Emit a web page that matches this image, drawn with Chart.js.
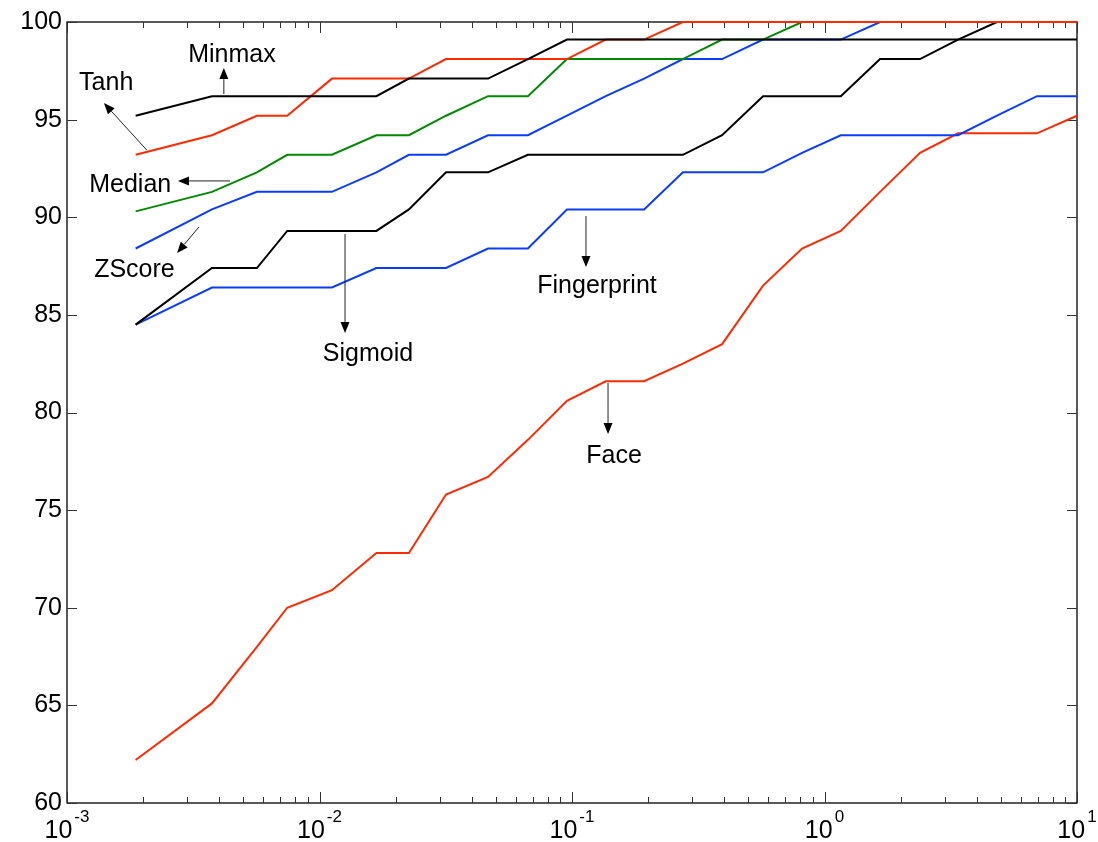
<!DOCTYPE html>
<html>
<head>
<meta charset="utf-8">
<script src="https://cdn.jsdelivr.net/npm/chart.js@4.4.0/dist/chart.umd.min.js"></script>
<style>
  body { margin: 0; background: #fff; }
  #plot { display: block; }
</style>
</head>
<body>
<canvas id="plot" width="1098" height="842"></canvas>
<script>
// x positions shared by all curves (log axis)
const xValues = [0.00187, 0.00375, 0.00565, 0.00745, 0.0112, 0.0168, 0.0226, 0.0317, 0.0465, 0.0669,
  0.0955, 0.136, 0.193, 0.275, 0.393, 0.571, 0.815, 1.16, 1.66, 2.39, 3.38, 4.82, 6.94, 10];

// one array per curve
const minmaxVals = [95.2, 96.2, 96.2, 96.2, 96.2, 96.2, 97.1, 97.1, 97.1, 98.1, 99.1, 99.1,
  99.1, 99.1, 99.1, 99.1, 99.1, 99.1, 99.1, 99.1, 99.1, 99.1, 99.1, 99.1];
const tanhVals = [93.2, 94.2, 95.2, 95.2, 97.1, 97.1, 97.1, 98.1, 98.1, 98.1, 98.1, 99.1,
  99.1, 100, 100, 100, 100, 100, 100, 100, 100, 100, 100, 100];
const medianVals = [90.3, 91.3, 92.3, 93.2, 93.2, 94.2, 94.2, 95.2, 96.2, 96.2, 98.1, 98.1,
  98.1, 98.1, 99.1, 99.1, 100, 100, 100, 100, 100, 100, 100, 100];
const zscoreVals = [88.4, 90.4, 91.3, 91.3, 91.3, 92.3, 93.2, 93.2, 94.2, 94.2, 95.2, 96.2,
  97.1, 98.1, 98.1, 99.1, 99.1, 99.1, 100, 100, 100, 100, 100, 100];
const sigmoidVals = [84.5, 87.4, 87.4, 89.3, 89.3, 89.3, 90.4, 92.3, 92.3, 93.2, 93.2, 93.2,
  93.2, 93.2, 94.2, 96.2, 96.2, 96.2, 98.1, 98.1, 99.1, 100, 100, 100];
const fingerprintVals = [84.5, 86.4, 86.4, 86.4, 86.4, 87.4, 87.4, 87.4, 88.4, 88.4, 90.4, 90.4,
  90.4, 92.3, 92.3, 92.3, 93.3, 94.2, 94.2, 94.2, 94.2, 95.2, 96.2, 96.2];
const faceVals = [62.2, 65.1, 68.0, 70.0, 70.9, 72.8, 72.8, 75.8, 76.7, 78.6, 80.6, 81.6,
  81.6, 82.5, 83.5, 86.5, 88.4, 89.3, 91.3, 93.3, 94.3, 94.3, 94.3, 95.2];

// axis ticks
const yTickValues = [60, 65, 70, 75, 80, 85, 90, 95, 100];
const xDecades = [-3, -2, -1, 0, 1];

// curve labels with arrows (data coordinates)
const labelNames = ["Minmax", "Tanh", "Median", "ZScore", "Sigmoid", "Fingerprint", "Face"];
const labelX = [0.0045, 0.00143, 0.00178, 0.00185, 0.01556, 0.1256, 0.1467];
const labelY = [97.95, 96.5, 91.29, 86.94, 82.64, 86.12, 77.41];
const arrowFrom = [[0.00418, 96.31], [0.00207, 93.44], [0.00442, 91.86], [0.00333, 89.5], [0.01262, 89.14], [0.1136, 90.06], [0.1389, 81.51]];
const arrowTo = [[0.00418, 97.64], [0.0014, 95.85], [0.00275, 91.86], [0.00273, 88.17], [0.01262, 84.07], [0.1136, 87.45], [0.1389, 78.9]];

const RED = '#ff2a00';
const BLUE = '#0a3cff';
const GREEN = '#008a00';
const BLACK = '#000000';
const FONT = '"Liberation Sans", Arial, Helvetica, sans-serif';

function toPoints(vals) {
    return xValues.map(function (x, i) { return { x: x, y: vals[i] }; });
}

function makeLine(label, vals, color) {
    return {
        label: label,
        data: toPoints(vals),
        borderColor: color,
        borderWidth: 2,
        pointRadius: 0,
        tension: 0,
        fill: false,
        clip: false
    };
}

function drawArrow(ctx, x1, y1, x2, y2) {
    const ang = Math.atan2(y2 - y1, x2 - x1);
    const headLen = 11, headW = 4.5;
    const bx = x2 - headLen * Math.cos(ang);
    const by = y2 - headLen * Math.sin(ang);
    ctx.beginPath();
    ctx.moveTo(x1, y1);
    ctx.lineTo(bx, by);
    ctx.stroke();
    ctx.beginPath();
    ctx.moveTo(x2, y2);
    ctx.lineTo(bx + headW * Math.sin(ang), by - headW * Math.cos(ang));
    ctx.lineTo(bx - headW * Math.sin(ang), by + headW * Math.cos(ang));
    ctx.closePath();
    ctx.fill();
}

// box, inward ticks and log labels like the original figure
const boxPlugin = {
    id: 'box',
    beforeDatasetsDraw(chart) {
        const ctx = chart.ctx;
        const a = chart.chartArea;
        const xs = chart.scales.x;
        const ys = chart.scales.y;
        ctx.save();
        ctx.strokeStyle = BLACK;
        ctx.lineWidth = 1.3;
        ctx.strokeRect(a.left, a.top, a.right - a.left, a.bottom - a.top);

        ctx.lineWidth = 1;
        ctx.strokeStyle = '#333';
        // y ticks, left and right
        yTickValues.forEach(function (v) {
            const py = Math.round(ys.getPixelForValue(v)) + 0.5;
            ctx.beginPath();
            ctx.moveTo(a.left, py); ctx.lineTo(a.left + 10, py);
            ctx.moveTo(a.right, py); ctx.lineTo(a.right - 10, py);
            ctx.stroke();
        });
        // x ticks, bottom and top
        xDecades.forEach(function (d) {
            for (let k = 1; k <= 9; k++) {
                if (d === 1 && k > 1) break;
                const px = Math.round(xs.getPixelForValue(k * Math.pow(10, d))) + 0.5;
                const len = k === 1 ? 11 : 6;
                ctx.beginPath();
                ctx.moveTo(px, a.bottom); ctx.lineTo(px, a.bottom - len);
                ctx.moveTo(px, a.top); ctx.lineTo(px, a.top + len);
                ctx.stroke();
            }
        });
        ctx.restore();
    },
    afterDraw(chart) {
        const ctx = chart.ctx;
        const a = chart.chartArea;
        const xs = chart.scales.x;
        const ys = chart.scales.y;
        ctx.save();
        ctx.fillStyle = BLACK;
        ctx.textBaseline = 'alphabetic';
        ctx.textAlign = 'left';

        // 10^n labels under the x axis
        xDecades.forEach(function (d) {
            const px = xs.getPixelForValue(Math.pow(10, d));
            ctx.font = '25px ' + FONT;
            const wBase = ctx.measureText('10').width;
            ctx.font = '17px ' + FONT;
            const exp = String(d);
            const wExp = ctx.measureText(exp).width;
            const left = px - (wBase + 2 + wExp) / 2;
            ctx.font = '25px ' + FONT;
            ctx.fillText('10', left, a.bottom + 35);
            ctx.font = '17px ' + FONT;
            ctx.fillText(exp, left + wBase + 2, a.bottom + 19);
        });

        // curve names and arrows
        ctx.strokeStyle = '#222';
        ctx.lineWidth = 1;
        labelNames.forEach(function (name, i) {
            ctx.font = '25px ' + FONT;
            ctx.textAlign = 'center';
            ctx.fillText(name, xs.getPixelForValue(labelX[i]), ys.getPixelForValue(labelY[i]));
            drawArrow(ctx,
                xs.getPixelForValue(arrowFrom[i][0]), ys.getPixelForValue(arrowFrom[i][1]),
                xs.getPixelForValue(arrowTo[i][0]), ys.getPixelForValue(arrowTo[i][1]));
        });
        ctx.restore();
    }
};

const plotEl = document.getElementById('plot');

const chart = new Chart(plotEl, {
    type: 'line',
    data: {
        datasets: [
            makeLine('Minmax', minmaxVals, BLACK),
            makeLine('Tanh', tanhVals, RED),
            makeLine('Median', medianVals, GREEN),
            makeLine('ZScore', zscoreVals, BLUE),
            makeLine('Sigmoid', sigmoidVals, BLACK),
            makeLine('Fingerprint', fingerprintVals, BLUE),
            makeLine('Face', faceVals, RED)
        ]
    },
    options: {
        responsive: false,
        animation: false,
        devicePixelRatio: 1,
        layout: { padding: { left: 0, right: 21, top: 22, bottom: 39 } },
        plugins: {
            legend: { display: false },
            tooltip: { enabled: false }
        },
        scales: {
            x: {
                type: 'logarithmic',
                min: 0.001,
                max: 10,
                display: false
            },
            y: {
                type: 'linear',
                min: 60,
                max: 100,
                grid: { display: false, drawTicks: false },
                border: { display: false },
                ticks: {
                    stepSize: 5,
                    padding: 5,
                    color: BLACK,
                    font: { family: FONT, size: 25 }
                },
                afterFit: function (scale) { scale.width = 67; }
            }
        }
    },
    plugins: [boxPlugin]
});
</script>
</body>
</html>
